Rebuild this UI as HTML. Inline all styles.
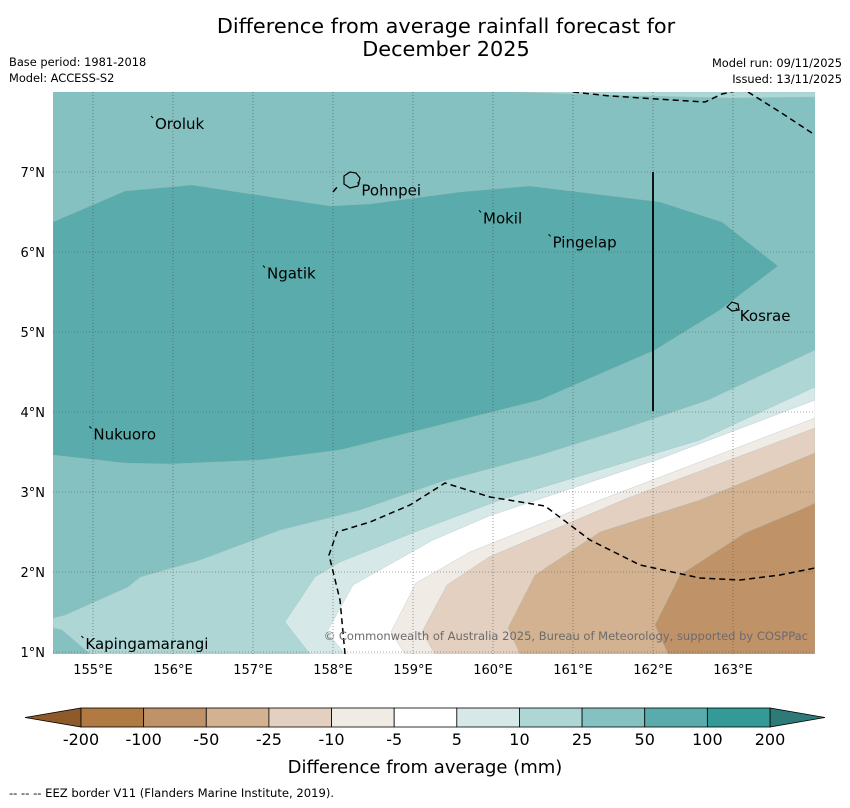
<!DOCTYPE html>
<html><head><meta charset="utf-8"><style>
body{margin:0;background:#fff;font-family:"DejaVu Sans","Liberation Sans",sans-serif}
svg text{font-family:"DejaVu Sans","Liberation Sans",sans-serif}
</style></head><body>
<svg id="chart" width="850" height="804" viewBox="0 0 850 804" xmlns="http://www.w3.org/2000/svg">
<text x="446" y="33" font-size="20.8" text-anchor="middle">Difference from average rainfall forecast for</text>
<text x="446" y="56" font-size="20.8" text-anchor="middle">December 2025</text>
<text x="9" y="66" font-size="11.4">Base period: 1981-2018</text>
<text x="9" y="82" font-size="11.4">Model: ACCESS-S2</text>
<text x="842" y="67" font-size="11.4" text-anchor="end">Model run: 09/11/2025</text>
<text x="842" y="83" font-size="11.4" text-anchor="end">Issued: 13/11/2025</text>
<defs><clipPath id="mapclip"><rect x="53" y="92" width="762" height="562"/></clipPath></defs>
<g id="map" clip-path="url(#mapclip)"></g>
<g id="ticks"></g>
<g id="cbar"></g>
<text x="425" y="773" font-size="18" text-anchor="middle">Difference from average (mm)</text>
<text x="9" y="797" font-size="11.6">--  --  -- EEZ border V11 (Flanders Marine Institute, 2019).</text>
</svg>
<script>
const NS="http://www.w3.org/2000/svg";
const lonTicks=[155,156,157,158,159,160,161,162,163];
const latTicks=[1,2,3,4,5,6,7];
const levelLabels=["-200","-100","-50","-25","-10","-5","5","10","25","50","100","200"];
const levelColors=["#b07a42","#c09268","#d3b292","#e4d0c0","#f1ebe6","#ffffff","#d6e9e8","#add6d5","#85c1c0","#5aabab","#339a98"];
const lowColor="#8f5a2a", highColor="#2e7a78";
function P(pts){return pts.map(p=>[154.5+(p[0]-53)/80,8-(p[1]-92)/80]);}
const bands=[
 ["#85c1c0",P([[53,92],[815,92],[815,654],[53,654]])],
 ["#add6d5",P([[515,92],[815,92],[815,97],[730,98],[600,95]])],
 ["#5aabab",P([[53,222],[125,191],[192,185],[330,206],[370,204],[460,192],[530,186],[660,202],[722,222],[778,266],[720,310],[655,350],[540,400],[440,425],[340,450],[260,460],[170,464],[125,463],[53,455]])],
 ["#add6d5",P([[53,618],[65,615],[128,587],[140,577],[200,560],[240,545],[280,530],[360,510],[440,482],[540,455],[620,430],[708,400],[815,350],[815,654],[53,654]])],
 ["#85c1c0",P([[53,628],[62,630],[90,654],[53,654]])],
 ["#d6e9e8",P([[285,622],[315,577],[340,562],[420,530],[500,500],[600,470],[700,440],[815,387],[815,654],[310,654]])],
 ["#ffffff",P([[327,632],[353,585],[433,540],[489,516],[662,458],[815,400],[815,654],[345,654]])],
 ["#f1ebe6",P([[391,632],[416,583],[470,552],[600,500],[815,418],[815,654],[405,654]])],
 ["#e4d0c0",P([[422,632],[447,585],[489,557],[628,498],[815,428],[815,654],[435,654]])],
 ["#d3b292",P([[508,628],[535,575],[600,532],[700,500],[815,453],[815,654],[520,654]])],
 ["#c09268",P([[655,625],[680,575],[745,533],[800,510],[815,503],[815,654],[668,654]])]
];
const eezLines=[
 P([[573,92],[610,96],[705,102],[722,94],[740,90]]),
 P([[748,92],[780,112],[815,135]]),
 P([[345,654],[340,600],[329,555],[337,532],[370,522],[410,505],[445,483],[490,497],[545,506],[590,540],[640,565],[700,578],[740,580],[780,575],[815,568]]),
 P([[333,192],[338,186]])
];
const places=[["Oroluk",155.75,7.6],["Pohnpei",158.33,6.77],["Mokil",159.85,6.42],["Pingelap",160.72,6.12],["Ngatik",157.15,5.73],["Kosrae",163.06,5.2],["Nukuoro",154.98,3.72],["Kapingamarangi",154.88,1.1]];
const xS=lon=>93+(lon-155)*80, yS=lat=>172+(7-lat)*80;
function el(t,a,p){const e=document.createElementNS(NS,t);for(const k in a)e.setAttribute(k,a[k]);(p||document.getElementById('chart')).appendChild(e);return e;}
const map=document.getElementById('map');
bands.forEach((b,i)=>{const e=el('polygon',{points:b[1].map(p=>xS(p[0])+','+yS(p[1])).join(' '),fill:b[0],stroke:i?'#9bb':'none','stroke-width':0.3},map);

});
lonTicks.forEach(l=>{const e=el('line',{x1:xS(l),x2:xS(l),y1:92,y2:654,stroke:'#555','stroke-width':0.6,'stroke-dasharray':'1,2'},map);

});
latTicks.forEach(l=>{const e=el('line',{x1:53,x2:815,y1:yS(l),y2:yS(l),stroke:'#555','stroke-width':0.6,'stroke-dasharray':'1,2'},map);

});
eezLines.forEach(L=>{const e=el('polyline',{points:L.map(p=>xS(p[0])+','+yS(p[1])).join(' '),fill:'none',stroke:'#000','stroke-width':1.5,'stroke-dasharray':'6,4'},map);

});
let v=el('line',{x1:xS(162),x2:xS(162),y1:yS(7),y2:yS(4.01),stroke:'#000','stroke-width':1.8},map);


let isl=el('path',{d:'M344,176 L350,172 L356,173 L360,178 L358,186 L350,188 L344,184 Z',fill:'none',stroke:'#000','stroke-width':1.2},map);


let isl2=el('path',{d:'M727,307 L732,302 L738,304 L739,310 L732,311 Z',fill:'none',stroke:'#000','stroke-width':1.2},map);


places.forEach(p=>{const x=xS(p[1]),y=yS(p[2]);
const m=el('line',{x1:x-2,y1:y-8,x2:x,y2:y-6,stroke:'#000','stroke-width':1},map);


const t=el('text',{x:x+2,y:y+5,'font-size':15},map);t.textContent=p[0];

});
const cr=el('text',{x:808,y:640,'font-size':11.5,'text-anchor':'end',fill:'#6b6b6b'},map);cr.textContent='© Commonwealth of Australia 2025, Bureau of Meteorology, supported by COSPPac';


const tk=document.getElementById('ticks');
lonTicks.forEach(l=>{const t=el('text',{x:xS(l),y:674,'font-size':13,'text-anchor':'middle'},tk);t.textContent=l+'°E';

});
latTicks.forEach(l=>{const t=el('text',{x:45,y:yS(l)+5,'font-size':13,'text-anchor':'end'},tk);t.textContent=l+'°N';

});
const cb=document.getElementById('cbar');const x0=81,x1=770,y0=708,h=19,w=(x1-x0)/levelColors.length;
let lt=el('polygon',{points:`${x0},${y0} ${x0},${y0+h} 25,${y0+h/2}`,fill:lowColor,stroke:'#000','stroke-width':0.8},cb);


let ht=el('polygon',{points:`${x1},${y0} ${x1},${y0+h} 825,${y0+h/2}`,fill:highColor,stroke:'#000','stroke-width':0.8},cb);


levelColors.forEach((c,i)=>{const r=el('rect',{x:x0+i*w,y:y0,width:w,height:h,fill:c,stroke:'#000','stroke-width':0.8},cb);

});
levelLabels.forEach((s,i)=>{const t=el('text',{x:x0+i*w,y:745,'font-size':16,'text-anchor':'middle'},cb);t.textContent=s;

});
</script>
</body></html>
